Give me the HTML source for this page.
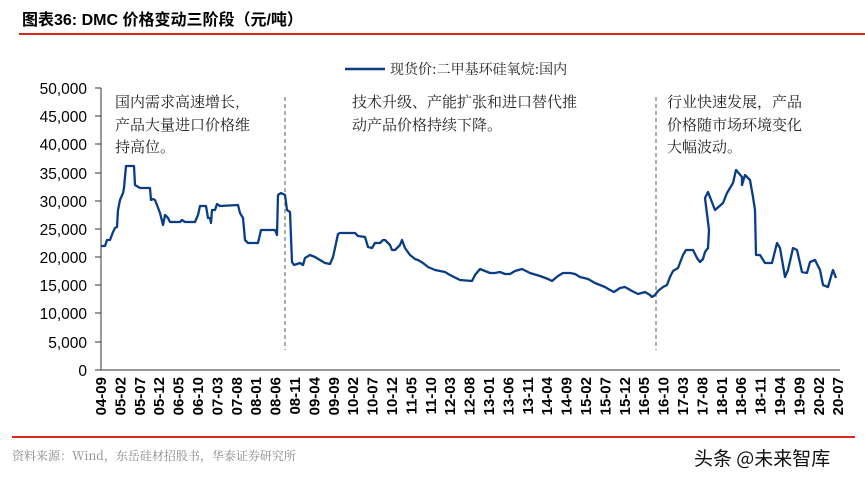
<!DOCTYPE html>
<html><head><meta charset="utf-8"><style>
body{margin:0;background:#fff;width:865px;height:486px;overflow:hidden}
svg{display:block}
</style></head><body>
<svg width="865" height="486" xmlns="http://www.w3.org/2000/svg" font-family="Liberation Sans, Noto Sans CJK SC, sans-serif">
<text x="22" y="25" font-size="16" font-weight="bold" fill="#000">图表36:  DMC 价格变动三阶段（元/吨）</text>
<line x1="19" y1="34" x2="865" y2="34" stroke="#d9291c" stroke-width="2"/>
<line x1="345" y1="69" x2="385" y2="69" stroke="#0b3d85" stroke-width="2.5"/>
<text x="390" y="74" font-size="14" fill="#222" font-family="Noto Serif CJK SC, serif">现货价:二甲基环硅氧烷:国内</text>
<g font-size="15.5" fill="#000" text-anchor="end">
<text x="87" y="94">50,000</text><text x="87" y="122">45,000</text><text x="87" y="150">40,000</text>
<text x="87" y="179">35,000</text><text x="87" y="207">30,000</text><text x="87" y="235">25,000</text>
<text x="87" y="263">20,000</text><text x="87" y="291">15,000</text><text x="87" y="319">10,000</text>
<text x="87" y="348">5,000</text><text x="87" y="376">0</text>
</g>
<g stroke="#333" stroke-width="1">
<line x1="101" y1="88" x2="101" y2="370"/>
<line x1="95" y1="88" x2="101" y2="88"/><line x1="95" y1="116" x2="101" y2="116"/><line x1="95" y1="144" x2="101" y2="144"/>
<line x1="95" y1="173" x2="101" y2="173"/><line x1="95" y1="201" x2="101" y2="201"/><line x1="95" y1="229" x2="101" y2="229"/>
<line x1="95" y1="257" x2="101" y2="257"/><line x1="95" y1="285" x2="101" y2="285"/><line x1="95" y1="313" x2="101" y2="313"/>
<line x1="95" y1="342" x2="101" y2="342"/><line x1="95" y1="370" x2="101" y2="370"/>
<line x1="101" y1="370" x2="840" y2="370"/>
</g>
<g stroke="#777" stroke-width="1.2" stroke-dasharray="4,3">
<line x1="285" y1="97" x2="285" y2="350"/><line x1="656" y1="97" x2="656" y2="350"/>
</g>
<g font-size="15" fill="#222" font-family="Noto Serif CJK SC, serif">
<text x="115" y="107">国内需求高速增长,</text><text x="115" y="130">产品大量进口价格维</text><text x="115" y="152">持高位。</text>
<text x="352" y="107">技术升级、产能扩张和进口替代推</text><text x="352" y="130">动产品价格持续下降。</text>
<text x="667" y="107">行业快速发展，产品</text><text x="667" y="130">价格随市场环境变化</text><text x="667" y="152">大幅波动。</text>
</g>
<polyline fill="none" stroke="#0b3d85" stroke-width="2.3" stroke-linejoin="round" points="101,246 105,246 107,240 110,240 113,232 115,228 117,227 118,210 120,200 123,193 124,188 126,166 134,166 135,185 140,188 150,188 151,200 153,199 155,200 157,205 160,213 163,225 165,215 168,218 170,222 180,222 182,220 185,222 195,222 198,215 200,206 206,206 208,218 210,218 211,223 212,210 215,210 217,204 220,206 238,205 240,213 243,218 245,240 248,243 258,243 261,230 275,230 277,235 278,195 281,193 285,195 287,210 290,212 292,262 294,265 300,263 303,265 305,258 310,255 315,257 320,260 325,263 330,264 333,257 335,248 338,234 340,233 355,233 358,236 365,237 368,247 372,248 375,243 380,243 383,240 385,240 390,245 392,250 395,250 400,245 402,240 405,248 410,255 415,259 418,260 423,263 428,267 435,270 445,272 450,275 460,280 472,281 475,275 480,269 490,273 495,273 500,272 505,274 510,274 515,271 522,269 530,273 540,276 548,279 552,281 558,276 563,273 570,273 575,274 580,277 588,279 595,283 605,287 610,290 614,292 620,288 625,287 632,291 638,294 645,292 650,295 652,297 655,295 658,291 663,287 667,285 670,277 673,271 678,268 683,255 686,250 693,250 697,258 700,262 703,259 705,252 708,248 709,230 705,198 708,192 715,210 723,203 727,193 733,183 736,170 742,177 742,185 745,175 750,180 753,197 755,210 756,255 760,255 765,263 772,263 777,243 780,248 785,277 788,270 793,248 797,250 802,272 807,273 810,262 815,260 820,270 823,285 828,287 832,273 833,270 836,278"/>
<line x1="12" y1="437" x2="855" y2="437" stroke="#d9291c" stroke-width="2"/>
<text x="12" y="460" font-size="12" fill="#888" font-family="Noto Serif CJK SC, serif">资料来源：Wind，东岳硅材招股书，华泰证券研究所</text>
<text x="694" y="465" font-size="19" fill="#111" font-family="Noto Sans CJK SC, sans-serif">头条 @未来智库</text>
<g font-size="15" fill="#000" text-anchor="end" font-weight="bold">
<text transform="translate(106,377) rotate(-90)">04-09</text>
<text transform="translate(125.4,377) rotate(-90)">05-02</text>
<text transform="translate(144.8,377) rotate(-90)">05-07</text>
<text transform="translate(164.2,377) rotate(-90)">05-12</text>
<text transform="translate(183.6,377) rotate(-90)">06-05</text>
<text transform="translate(203,377) rotate(-90)">06-10</text>
<text transform="translate(222.4,377) rotate(-90)">07-03</text>
<text transform="translate(241.8,377) rotate(-90)">07-08</text>
<text transform="translate(261.2,377) rotate(-90)">08-01</text>
<text transform="translate(280.6,377) rotate(-90)">08-06</text>
<text transform="translate(300,377) rotate(-90)">08-11</text>
<text transform="translate(319.4,377) rotate(-90)">09-04</text>
<text transform="translate(338.8,377) rotate(-90)">09-09</text>
<text transform="translate(358.2,377) rotate(-90)">10-02</text>
<text transform="translate(377.6,377) rotate(-90)">10-07</text>
<text transform="translate(397,377) rotate(-90)">10-12</text>
<text transform="translate(416.4,377) rotate(-90)">11-05</text>
<text transform="translate(435.8,377) rotate(-90)">11-10</text>
<text transform="translate(455.2,377) rotate(-90)">12-03</text>
<text transform="translate(474.6,377) rotate(-90)">12-08</text>
<text transform="translate(494,377) rotate(-90)">13-01</text>
<text transform="translate(513.4,377) rotate(-90)">13-06</text>
<text transform="translate(532.8,377) rotate(-90)">13-11</text>
<text transform="translate(552.2,377) rotate(-90)">14-04</text>
<text transform="translate(571.6,377) rotate(-90)">14-09</text>
<text transform="translate(591,377) rotate(-90)">15-02</text>
<text transform="translate(610.4,377) rotate(-90)">15-07</text>
<text transform="translate(629.8,377) rotate(-90)">15-12</text>
<text transform="translate(649.2,377) rotate(-90)">16-05</text>
<text transform="translate(668.6,377) rotate(-90)">16-10</text>
<text transform="translate(688,377) rotate(-90)">17-03</text>
<text transform="translate(707.4,377) rotate(-90)">17-08</text>
<text transform="translate(726.8,377) rotate(-90)">18-01</text>
<text transform="translate(746.2,377) rotate(-90)">18-06</text>
<text transform="translate(765.6,377) rotate(-90)">18-11</text>
<text transform="translate(785,377) rotate(-90)">19-04</text>
<text transform="translate(804.4,377) rotate(-90)">19-09</text>
<text transform="translate(823.8,377) rotate(-90)">20-02</text>
<text transform="translate(843.2,377) rotate(-90)">20-07</text>
</g>
</svg>
</body></html>
